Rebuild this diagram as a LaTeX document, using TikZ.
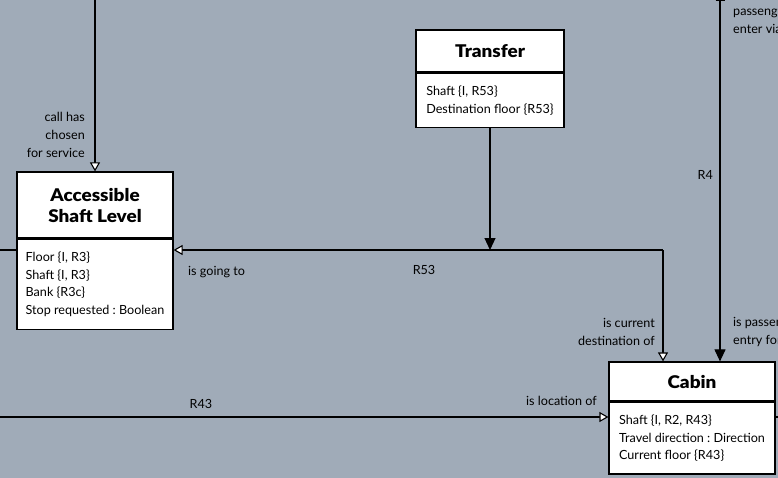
\documentclass[tikz,border=0pt]{standalone}
\usepackage{fontspec}
\setmainfont{Lato}
\newfontfamily\titlefont[FakeStretch=1.08]{Lato Black}
\usetikzlibrary{arrows.meta,positioning}
\definecolor{canvas}{RGB}{160,171,184}
\frenchspacing
\tikzset{
  classtitle/.style={draw,fill=white,line width=1.2pt,align=center,
    font=\titlefont\fontsize{17.5}{21}\selectfont},
  classattrs/.style={draw,fill=white,line width=1.2pt,align=left,anchor=north,
    inner xsep=7pt,inner ysep=12.5pt,font=\fontsize{12.6}{17.7}\selectfont},
  lbl/.style={font=\fontsize{12.6}{17.7}\selectfont,inner sep=0pt},
  assoc/.style={line width=1.1pt},
  openhead/.style={-{Triangle[open,fill=white,length=9pt,width=10pt]}},
  fullhead/.style={-{Triangle[length=12pt,width=11pt]}}
}
\begin{document}
\begin{tikzpicture}[x=1pt,y=-1pt]
        \fill[canvas] (0,0) rectangle (778,478) ;
        \useasboundingbox (0,0) rectangle (778,478) ;
        \clip (0,0) rectangle (778,478) ;
        % classes
        \node[classtitle,minimum width=156pt,minimum height=66pt] (asl) at (95,205)
        {Accessible\\Shaft Level} ;
        \node[classattrs,minimum width=156pt] (asl-a) at (asl.south)
        {Floor \{I, R3\}\\Shaft \{I, R3\}\\Bank \{R3c\}\\Stop requested : Boolean} ;
        \node[classtitle,minimum width=148pt,minimum height=42pt] (tr) at (490,51) {Transfer} ;
        \node[classattrs,minimum width=148pt] (tr-a) at (tr.south)
        {Shaft \{I, R53\}\\Destination floor \{R53\}} ;
        \node[classtitle,minimum width=166pt,minimum height=39pt] (cab) at (692,381.5) {Cabin} ;
        \node[classattrs,minimum width=166pt] (cab-a) at (cab.south)
        {Shaft \{I, R2, R43\}\\Travel direction : Direction\\Current floor \{R43\}} ;
        % loose ends
        \coordinate (top1) at (95,0) ;
        \coordinate (top4) at (720,0) ;
        \coordinate (left1) at (0,250) ;
        \coordinate (left43) at (0,417) ;
        \coordinate (right43) at (778,417) ;
        \coordinate (r53) at (663,250) ;
        % connectors
        \draw[assoc,openhead] (top1) -- (asl.north) ;
        \draw[assoc] (left1) -- (left1 -| asl-a.west) ;
        \draw[assoc,openhead] (r53) -- (r53 -| asl-a.east) ;
        \draw[assoc,openhead] (r53) -- (r53 |- cab.north) ;
        \draw[assoc,fullhead] (tr-a.south) -- (tr-a.south |- r53) ;
        \draw[assoc,{Bar[width=9pt]}-{Triangle[length=12pt,width=11pt]}] (top4) -- (top4 |- cab.north) ;
        \draw[assoc,openhead] (left43) -- (left43 -| cab-a.west) ;
        \draw[assoc] (right43 -| cab-a.east) -- (right43) ;
        % labels
        \node[lbl,anchor=east,align=right] (l-chosen) at (85,135) {call has\\chosen\\for service} ;
        \node[lbl,anchor=west] (l-going) at (188,272) {is going to} ;
        \node[lbl] (l-r53) at (424,270) {R53} ;
        \node[lbl,anchor=east,align=right] (l-dest) at (655,332) {is current\\destination of} ;
        \node[lbl,anchor=west,align=left] (l-enter) at (733,21) {passengers\\enter via} ;
        \node[lbl,anchor=east] (l-r4) at (713,175) {R4} ;
        \node[lbl,anchor=west,align=left] (l-entry) at (733,332) {is passenger\\entry for} ;
        \node[lbl] (l-r43) at (201,404) {R43} ;
        \node[lbl,anchor=east] (l-loc) at (597,401) {is location of} ;
      \end{tikzpicture}
\end{document}
